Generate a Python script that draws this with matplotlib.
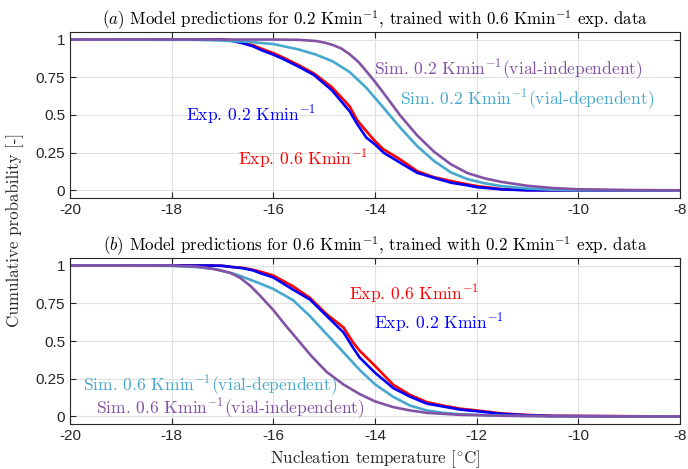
import numpy as np
import matplotlib
matplotlib.use("Agg")
import matplotlib.pyplot as plt

plt.rcParams['mathtext.fontset'] = 'cm'
plt.rcParams['axes.unicode_minus'] = False
plt.rcParams['font.family'] = ['Liberation Sans', 'DejaVu Sans']

# ---- panel (a): 0.2 K/min predictions ----
exp_a_T = [-20, -17.0, -16.8, -16.6, -16.4, -16.2, -16.0, -15.8, -15.5, -15.2, -14.85,
           -14.5, -14.35, -14.17, -14.0, -13.83, -13.5, -13.17, -12.84, -12.5, -12.2,
           -12.0, -11.5, -11.0, -8]
exp02_a = [1, 1, 0.99, 0.975, 0.955, 0.925, 0.9, 0.87, 0.82, 0.765, 0.665,
           0.525, 0.44, 0.35, 0.305, 0.25, 0.183, 0.117, 0.084, 0.051, 0.035,
           0.022, 0.007, 0.001, 0]
exp06_a = [1, 1, 0.995, 0.982, 0.962, 0.935, 0.91, 0.88, 0.83, 0.775, 0.685,
           0.558, 0.465, 0.393, 0.327, 0.272, 0.205, 0.128, 0.088, 0.062, 0.042,
           0.029, 0.009, 0.002, 0]

simdep_a_T = [-20, -17.5, -17.0, -16.5, -16.0, -15.5, -15.16, -14.83, -14.5, -14.17,
              -13.83, -13.5, -13.17, -12.84, -12.51, -12.18, -11.85, -11.52, -11.0,
              -10.5, -10, -8]
simdep_a = [1, 0.998, 0.993, 0.985, 0.97, 0.934, 0.9, 0.855, 0.785, 0.68,
            0.547, 0.415, 0.294, 0.196, 0.12, 0.075, 0.048, 0.029, 0.013,
            0.005, 0.002, 0]

simind_a_T = [-20, -16.0, -15.5, -15.16, -15.0, -14.83, -14.66, -14.5, -14.33, -14.17,
              -14.0, -13.83, -13.5, -13.17, -12.84, -12.51, -12.18, -11.85, -11.52,
              -11.0, -10.5, -10.0, -9.0, -8]
simind_a = [1, 1, 0.998, 0.99, 0.98, 0.964, 0.94, 0.903, 0.853, 0.79,
            0.72, 0.645, 0.495, 0.365, 0.257, 0.174, 0.115, 0.081, 0.057,
            0.031, 0.016, 0.008, 0.003, 0.001]

# ---- panel (b): 0.6 K/min predictions ----
exp_b_T = [-20, -17.2, -17.0, -16.8, -16.6, -16.4, -16.26, -16.0, -15.61, -15.28, -14.95,
           -14.62, -14.43, -14.3, -14.0, -13.64, -13.31, -12.98, -12.66, -12.33, -12.0,
           -11.5, -11.0, -10.5, -8]
exp06_b = [1, 1, 0.998, 0.99, 0.985, 0.972, 0.96, 0.934, 0.862, 0.786, 0.677,
           0.59, 0.49, 0.435, 0.335, 0.21, 0.143, 0.095, 0.072, 0.052, 0.04,
           0.02, 0.01, 0.004, 0]
exp02_b = [1, 1, 0.998, 0.99, 0.982, 0.968, 0.95, 0.921, 0.84, 0.775, 0.666,
           0.557, 0.455, 0.39, 0.29, 0.188, 0.131, 0.085, 0.066, 0.046, 0.035,
           0.017, 0.008, 0.003, 0]

simdep_b_T = [-20, -18.0, -17.5, -17.1, -16.72, -16.33, -16.0, -15.61, -15.28, -14.95,
              -14.62, -14.3, -14.0, -13.64, -13.31, -12.98, -12.66, -12.33, -11.5, -10.5, -8]
simdep_b = [1, 0.998, 0.99, 0.974, 0.94, 0.89, 0.845, 0.77, 0.665, 0.545,
            0.425, 0.308, 0.213, 0.13, 0.072, 0.04, 0.024, 0.015, 0.005, 0.001, 0]

simind_b_T = [-20, -18.0, -17.51, -17.18, -16.85, -16.65, -16.45, -16.26, -16.0, -15.75,
              -15.5, -15.25, -14.95, -14.62, -14.3, -14.0, -13.64, -13.31, -12.98,
              -12.33, -11.5, -10.5, -8]
simind_b = [1, 0.999, 0.993, 0.978, 0.952, 0.918, 0.865, 0.80, 0.705, 0.60,
            0.50, 0.40, 0.295, 0.212, 0.148, 0.1, 0.062, 0.04, 0.024,
            0.011, 0.005, 0.002, 0]

xticks = [-20, -18, -16, -14, -12, -10, -8]
yticks = [0, 0.25, 0.5, 0.75, 1]
ytick_labels = ['0', '0.25', '0.5', '0.75', '1']

RED = '#FF0000'
BLUE = '#0000FF'
LBLUE = '#47A8CF'
PURPLE = '#8452A5'
AXC = '#262626'
CM = 'cmr10'
LFS = 12.6

fig = plt.figure(figsize=(6.88, 4.69), dpi=100)
ax1 = fig.add_axes([0.1017, 0.5778, 0.8867, 0.354])
ax2 = fig.add_axes([0.1017, 0.0959, 0.8867, 0.354])


def style(ax):
    ax.set_xlim(-20, -8)
    ax.set_ylim(-0.05, 1.05)
    ax.set_xticks(xticks)
    ax.set_xticklabels([str(t) for t in xticks])
    ax.set_yticks(yticks)
    ax.set_yticklabels(ytick_labels)
    ax.grid(True, color='#e0e0e0', linewidth=0.8)
    ax.set_axisbelow(True)
    ax.tick_params(direction='in', top=True, right=True, length=4,
                   labelsize=11, colors=AXC, width=0.8)
    for s in ax.spines.values():
        s.set_color(AXC)
        s.set_linewidth(0.8)


lw = 1.9
ax1.plot(exp_a_T, exp06_a, color=RED, lw=lw)
ax1.plot(exp_a_T, exp02_a, color=BLUE, lw=lw)
ax1.plot(simdep_a_T, simdep_a, color=LBLUE, lw=lw)
ax1.plot(simind_a_T, simind_a, color=PURPLE, lw=lw)
style(ax1)
ax1.set_title(r'$(a)$ Model predictions for 0.2 Kmin$^{-1}$, trained with 0.6 Kmin$^{-1}$ exp. data',
              fontfamily=CM, fontsize=12.2, pad=5)
ax1.text(-17.72, 0.5, r'Exp. 0.2 Kmin$^{-1}$', color=BLUE, fontfamily=CM, fontsize=LFS, va='center')
ax1.text(-16.7, 0.205, r'Exp. 0.6 Kmin$^{-1}$', color=RED, fontfamily=CM, fontsize=LFS, va='center')
ax1.text(-14.02, 0.8, r'Sim. 0.2 Kmin$^{-1}$(vial-independent)', color=PURPLE, fontfamily=CM,
         fontsize=LFS, va='center')
ax1.text(-13.51, 0.6, r'Sim. 0.2 Kmin$^{-1}$(vial-dependent)', color=LBLUE, fontfamily=CM,
         fontsize=LFS, va='center')

ax2.plot(exp_b_T, exp06_b, color=RED, lw=lw)
ax2.plot(exp_b_T, exp02_b, color=BLUE, lw=lw)
ax2.plot(simdep_b_T, simdep_b, color=LBLUE, lw=lw)
ax2.plot(simind_b_T, simind_b, color=PURPLE, lw=lw)
style(ax2)
ax2.set_title(r'$(b)$ Model predictions for 0.6 Kmin$^{-1}$, trained with 0.2 Kmin$^{-1}$ exp. data',
              fontfamily=CM, fontsize=12.2, pad=5)
ax2.text(-14.51, 0.81, r'Exp. 0.6 Kmin$^{-1}$', color=RED, fontfamily=CM, fontsize=LFS, va='center')
ax2.text(-14.02, 0.62, r'Exp. 0.2 Kmin$^{-1}$', color=BLUE, fontfamily=CM, fontsize=LFS, va='center')
ax2.text(-19.74, 0.205, r'Sim. 0.6 Kmin$^{-1}$(vial-dependent)', color=LBLUE, fontfamily=CM,
         fontsize=LFS, va='center')
ax2.text(-19.49, 0.053, r'Sim. 0.6 Kmin$^{-1}$(vial-independent)', color=PURPLE, fontfamily=CM,
         fontsize=LFS, va='center')
ax2.set_xlabel(r'Nucleation temperature [$^{\circ}$C]', fontfamily=CM, fontsize=12.2,
               color=AXC, labelpad=4)

fig.text(0.022, 0.51, 'Cumulative probability [-]', rotation=90, va='center', ha='center',
         fontfamily=CM, fontsize=12.2, color=AXC)

fig.savefig('out.png', dpi=100)
